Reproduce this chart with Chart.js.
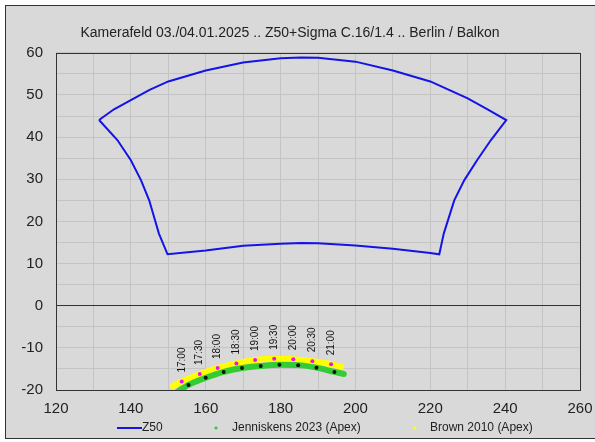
<!DOCTYPE html>
<html>
<head>
<meta charset="utf-8">
<script src="https://cdn.jsdelivr.net/npm/chart.js@4.4.1/dist/chart.umd.min.js"></script>
<style>
    html, body { margin: 0; padding: 0; background: #ffffff; }
    #frame {
        position: absolute; left: 5px; top: 5px; width: 600px; height: 432px;
        border: 1px solid #333; background: #d9d9d9;
    }
    #wrap { position: absolute; left: 0; top: 0; width: 595px; height: 442px; }
</style>
</head>
<body>
<div id="frame"></div>
<div id="wrap"><canvas id="chart" width="595" height="442"></canvas></div>
<script>
// ---- data ----
const TITLE = "Kamerafeld 03./04.01.2025 .. Z50+Sigma C.16/1.4 .. Berlin / Balkon";

const xTickLabels = [120, 140, 160, 180, 200, 220, 240, 260];
const yTickLabels = [-20, -10, 0, 10, 20, 30, 40, 50, 60];

// camera field outline (azimuth, altitude), closed polygon
const z50Az = [131.5, 135.5, 140, 145, 150, 160, 170, 180, 185.5, 190, 200, 210, 220, 225, 230, 235.3, 240.3,
    236.2, 232.5, 229.1, 226.4, 223.6, 222.4,
    220, 210, 200, 190, 185.5, 180, 170, 160, 149.8,
    147.5, 144.9, 142.7, 140, 136.4, 131.5];
const z50Alt = [44.05, 46.6, 48.8, 51.2, 53.2, 55.8, 57.7, 58.7, 58.9, 58.8, 57.9, 55.8, 53.2, 51.2, 49.2, 46.6, 44.05,
    39.3, 34.5, 29.8, 25.0, 17.1, 12.2,
    12.5, 13.5, 14.3, 14.8, 14.85, 14.7, 14.2, 13.1, 12.2,
    17.1, 25.0, 29.8, 34.5, 39.3, 44.05];

// Jenniskens 2023 apex track
const jenAz = [152.6, 155.4, 160.0, 164.8, 169.7, 174.7, 179.7, 184.7, 189.6, 194.4, 196.9];
const jenAlt = [-20.3, -18.8, -17.1, -15.7, -14.8, -14.3, -14.0, -14.1, -14.7, -15.7, -16.2];

// Brown 2010 apex track
const brownAz = [151.3, 153.6, 158.4, 163.2, 168.2, 173.2, 178.3, 183.4, 188.5, 193.5, 196.2];
const brownAlt = [-19.05, -18.0, -16.2, -14.8, -13.7, -12.9, -12.6, -12.7, -13.2, -13.9, -14.5];

// half-hour marks
const times = ["17:00", "17:30", "18:00", "18:30", "19:00", "19:30", "20:00", "20:30", "21:00"];
const jenMarkAz = [155.4, 160.0, 164.8, 169.7, 174.7, 179.7, 184.7, 189.6, 194.4];
const jenMarkAlt = [-18.8, -17.1, -15.7, -14.8, -14.3, -14.0, -14.1, -14.7, -15.7];
const brownMarkAz = [153.6, 158.4, 163.2, 168.2, 173.2, 178.3, 183.4, 188.5, 193.5];
const brownMarkAlt = [-18.0, -16.2, -14.8, -13.7, -12.9, -12.6, -12.7, -13.2, -13.9];

const pts = (xs, ys) => xs.map((x, i) => ({ x, y: ys[i] }));

const FONT = "'Liberation Sans', Arial, sans-serif";
const BLUE = "#1414e6";
const GREEN = "#33cc33";
const YELLOW = "#ffff00";

// plot frame + time labels
const plotDecor = {
    id: "plotDecor",
    beforeDatasetsDraw(chart) {
        const { ctx, chartArea: a } = chart;
        ctx.save();
        ctx.strokeStyle = "#333";
        ctx.lineWidth = 1;
        ctx.strokeRect(Math.round(a.left) + 0.5, Math.round(a.top) + 0.5,
            Math.round(a.right - a.left), Math.round(a.bottom - a.top));
        ctx.restore();
    },
    afterDatasetsDraw(chart) {
        const { ctx, scales } = chart;
        ctx.save();
        ctx.font = "10px " + FONT;
        ctx.fillStyle = "#111";
        ctx.textAlign = "left";
        ctx.textBaseline = "middle";
        times.forEach((t, i) => {
            const px = scales.x.getPixelForValue(brownMarkAz[i]);
            const py = scales.y.getPixelForValue(brownMarkAlt[i]);
            ctx.save();
            ctx.translate(px, py - 9);
            ctx.rotate(-Math.PI / 2);
            ctx.fillText(t, 0, 0);
            ctx.restore();
        });
        ctx.restore();
    }
};

// legend row under the axis
const bottomLegend = {
    id: "bottomLegend",
    afterDraw(chart) {
        const { ctx } = chart;
        const y = 428;
        ctx.save();
        ctx.font = "12px " + FONT;
        ctx.fillStyle = "#222";
        ctx.textBaseline = "middle";
        ctx.textAlign = "left";

        ctx.strokeStyle = BLUE;
        ctx.lineWidth = 2;
        ctx.beginPath();
        ctx.moveTo(117, y);
        ctx.lineTo(142, y);
        ctx.stroke();
        ctx.fillText("Z50", 142, y);

        ctx.fillStyle = GREEN;
        ctx.beginPath();
        ctx.arc(216, y, 1.6, 0, Math.PI * 2);
        ctx.fill();
        ctx.fillStyle = "#222";
        ctx.fillText("Jenniskens 2023 (Apex)", 232, y);

        ctx.fillStyle = YELLOW;
        ctx.beginPath();
        ctx.arc(415, y, 1.6, 0, Math.PI * 2);
        ctx.fill();
        ctx.fillStyle = "#222";
        ctx.fillText("Brown 2010 (Apex)", 430, y);
        ctx.restore();
    }
};

new Chart(document.getElementById("chart"), {
    type: "scatter",
    data: {
        datasets: [
            {
                label: "Z50", data: pts(z50Az, z50Alt), showLine: true,
                borderColor: BLUE, borderWidth: 2, pointRadius: 0, tension: 0, order: 1
            },
            {
                label: "Jenniskens 2023 (Apex)", data: pts(jenAz, jenAlt), showLine: true,
                borderColor: GREEN, borderWidth: 6, borderCapStyle: "round", pointRadius: 0,
                tension: 0.4, cubicInterpolationMode: "monotone", order: 4
            },
            {
                label: "Brown 2010 (Apex)", data: pts(brownAz, brownAlt), showLine: true,
                borderColor: YELLOW, borderWidth: 6, borderCapStyle: "round", pointRadius: 0,
                tension: 0.4, cubicInterpolationMode: "monotone", order: 5
            },
            {
                label: "Jenniskens marks", data: pts(jenMarkAz, jenMarkAlt),
                backgroundColor: "#111", borderWidth: 0, pointRadius: 2, order: 2
            },
            {
                label: "Brown marks", data: pts(brownMarkAz, brownMarkAlt),
                backgroundColor: "#ee11ee", borderWidth: 0, pointRadius: 2, order: 3
            }
        ]
    },
    options: {
        responsive: false,
        animation: false,
        events: [],
        layout: { padding: { left: 0, right: 15, top: 6, bottom: 0 } },
        plugins: {
            legend: { display: false },
            tooltip: { enabled: false },
            title: {
                display: true,
                text: TITLE,
                color: "#222",
                font: { family: FONT, size: 14, weight: "normal" },
                padding: { top: 19, bottom: 11 }
            }
        },
        scales: {
            x: {
                type: "linear",
                min: 120, max: 260,
                afterFit: s => { s.height = 52; s.paddingRight = 12; s.paddingLeft = 12; },
                ticks: {
                    stepSize: 10,
                    autoSkip: false,
                    maxRotation: 0,
                    padding: 10,
                    color: "#222",
                    font: { family: FONT, size: 15 },
                    callback: v => xTickLabels.includes(v) ? String(v) : ""
                },
                grid: { color: "#c4c4c4", lineWidth: 1, drawTicks: false },
                border: { display: false }
            },
            y: {
                type: "linear",
                min: -20, max: 60,
                afterFit: s => { s.width = 56; },
                ticks: {
                    stepSize: 5,
                    autoSkip: false,
                    padding: 13,
                    color: "#222",
                    font: { family: FONT, size: 15 },
                    callback: v => yTickLabels.includes(v) ? String(v) : ""
                },
                grid: {
                    color: c => c.tick && c.tick.value === 0 ? "#333" : "#c4c4c4",
                    lineWidth: 1,
                    drawTicks: false
                },
                border: { display: false }
            }
        }
    },
    plugins: [plotDecor, bottomLegend]
});
</script>
</body>
</html>
